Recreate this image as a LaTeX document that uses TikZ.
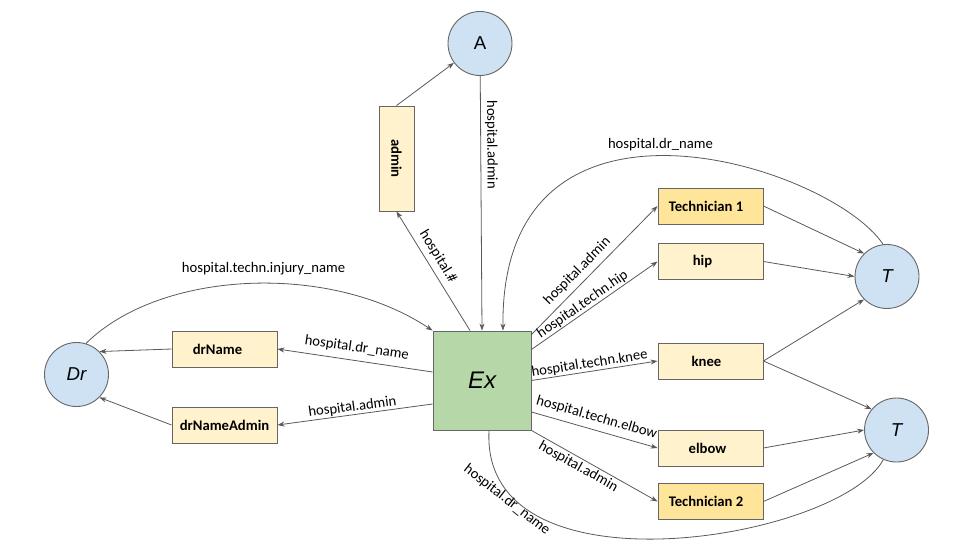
\documentclass[tikz,border=0pt]{standalone}
\usepackage{fontspec}
\setmainfont{Carlito}
\newfontfamily\arialfont{Liberation Sans}
\usetikzlibrary{arrows.meta,calc}
\definecolor{edgecol}{HTML}{595959}
\definecolor{circfill}{HTML}{CFE2F3}
\definecolor{exfill}{HTML}{B6D7A8}
\definecolor{boxfill}{HTML}{FFF2CC}
\definecolor{techfill}{HTML}{FFE599}
\definecolor{strokecol}{HTML}{666666}
\begin{document}
\begin{tikzpicture}[x=1pt,y=1pt,
 circ/.style={circle, draw=strokecol, fill=circfill, line width=0.9pt, minimum size=64pt, inner sep=0pt, font=\arialfont\fontsize{18.67}{20}\selectfont},
 box/.style={rectangle, draw=strokecol, fill=boxfill, line width=0.9pt, minimum width=105pt, minimum height=36pt, inner sep=0pt, font=\bfseries\fontsize{14.67}{16}\selectfont},
 techbox/.style={box, fill=techfill},
 conn/.style={draw=edgecol, line width=0.8pt, -{Stealth[length=7pt,width=5pt]}},
 plainline/.style={draw=edgecol, line width=0.8pt},
 lbl/.style={font=\fontsize{14.67}{16}\selectfont, inner sep=1pt, text=black},
]
\useasboundingbox (0,0) rectangle (960,-540);

% nodes
\node[circ] (A) at (480,-43.5) {A};
\node[box, minimum width=35pt, minimum height=105pt] (admin) at (396.5,-158.5) {\rotatebox{-90}{admin}};
\node[rectangle, draw=strokecol, fill=exfill, line width=0.9pt, minimum width=98pt, minimum height=99pt, inner sep=0pt, font=\arialfont\itshape\fontsize{24}{26}\selectfont] (Ex) at (482,-380.5) {Ex};
\node[circ, font=\arialfont\itshape\fontsize{18.67}{20}\selectfont] (Dr) at (76.5,-374.5) {Dr};
\node[circ, font=\arialfont\itshape\fontsize{18.67}{20}\selectfont] (T1) at (887,-276.5) {T};
\node[circ, font=\arialfont\itshape\fontsize{18.67}{20}\selectfont] (T2) at (896.5,-430) {T};
\node[box] (drName) at (224.5,-349) {\hspace*{-14pt}drName};
\node[box] (drNameAdmin) at (224.5,-425) {drNameAdmin};
\node[techbox] (Tech1) at (710.5,-206) {\hspace*{-9pt}Technician 1};
\node[box] (hip) at (710.5,-261.5) {\hspace*{-16pt}hip};
\node[box] (knee) at (710.5,-361) {\hspace*{-8pt}knee};
\node[box] (elbow) at (710.5,-448) {\hspace*{-6pt}elbow};
\node[techbox] (Tech2) at (710.5,-501.5) {\hspace*{-9pt}Technician 2};

% connectors
\draw[conn] (admin.north) -- (A);
\draw[conn] (A) -- node[lbl, sloped, above=3pt, pos=0.27] {hospital.admin} (Ex.north);
\draw[conn] ([xshift=-12pt]Ex.north) -- node[lbl, sloped, above=4pt, pos=0.57] {hospital.\#} (admin.south);

\draw[conn] (Dr.73) .. controls (160,-270) and (330,-262) .. (Ex.north west);
\node[lbl] (lblinjury) at (263.5,-269) {hospital.techn.injury\_name};

\draw[conn] (T1.97) .. controls (830,-165) and (500,-60) .. ([xshift=21pt]Ex.north);
\node[lbl] (lbldrtop) at (660.5,-145) {hospital.dr\_name};

\draw[plainline] (T2.246) .. controls (840,-540) and (480,-600) .. ([xshift=7pt]Ex.south);
\node[lbl, rotate=-38] (lbldrbot) at (507,-500) {hospital.dr\_name};

\draw[conn] ([yshift=8.5pt]Ex.west) -- node[lbl, sloped, above=5pt, pos=0.5] {hospital.dr\_name} (drName.east);
\draw[conn] ([yshift=-23.5pt]Ex.west) -- node[lbl, sloped, above, pos=0.51] {hospital.admin} (drNameAdmin.east);

\draw[conn] ([yshift=-4pt]Ex.north east) -- node[lbl, sloped, above=4pt, pos=0.43] {hospital.admin} (Tech1.west);
\draw[conn] ([yshift=31pt]Ex.east) -- node[lbl, sloped, above, pos=0.44] {hospital.techn.hip} (hip.west);
\draw[conn] (Ex.east) -- node[lbl, sloped, above, pos=0.47] {hospital.techn.knee} (knee.west);
\draw[conn] ([yshift=-31.5pt]Ex.east) -- node[lbl, sloped, above=5pt, pos=0.49] {hospital.techn.elbow} (elbow.west);
\draw[conn] (Ex.south east) -- node[lbl, sloped, below=1pt, pos=0.405] {hospital.admin} (Tech2.west);

\draw[conn] (drName.west) -- (Dr.45);
\draw[conn] (drNameAdmin.west) -- (Dr.-45);
\draw[conn] (Tech1.east) -- (T1.135);
\draw[conn] (hip.east) -- (T1.west);
\draw[conn] (knee.east) -- (T1.225);
\draw[conn] (knee.east) -- (T2.140);
\draw[conn] (elbow.east) -- (T2.west);
\draw[conn] (Tech2.east) -- (T2.225);
\end{tikzpicture}
\end{document}
